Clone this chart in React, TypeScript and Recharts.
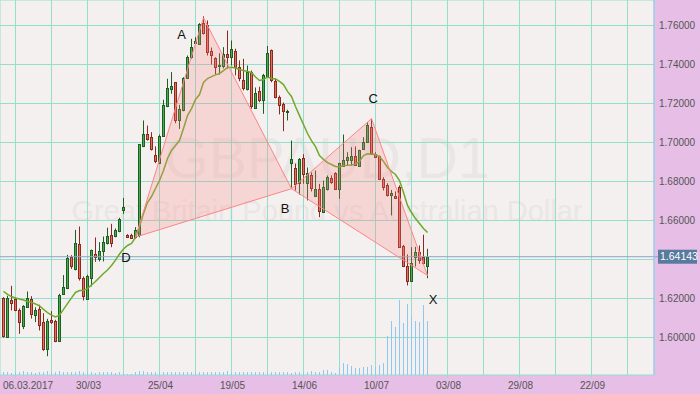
import React from 'react';
import { ComposedChart, Bar, Line, Scatter, XAxis, YAxis, CartesianGrid, ReferenceLine } from 'recharts';

// ---------- data (GBPAUD, D1) ----------
const OPEN = [
  1.6204, 1.6005, 1.6191, 1.6195, 1.6139, 1.6060, 1.6155, 1.6199, 1.6116, 1.6144,
  1.6081, 1.5940, 1.6092, 1.6087, 1.5981, 1.6222, 1.6253, 1.6414, 1.6349, 1.6482,
  1.6303, 1.6195, 1.6304, 1.6426, 1.6402, 1.6446, 1.6484, 1.6528, 1.6520, 1.6545,
  1.6655, 1.6527, 1.6527, 1.6513, 1.6528, 1.6980, 1.7043, 1.7026, 1.6935, 1.6894,
  1.7034, 1.7188, 1.7273, 1.7308, 1.7116, 1.7166, 1.7330, 1.7437, 1.7511, 1.7506,
  1.7615, 1.7600, 1.7467, 1.7434, 1.7392, 1.7390, 1.7455, 1.7436, 1.7467, 1.7386,
  1.7323, 1.7275, 1.7364, 1.7178, 1.7263, 1.7219, 1.7339, 1.7475, 1.7315, 1.7233,
  1.7198, 1.7156, 1.6895, 1.6869, 1.6790, 1.6920, 1.6790, 1.6833, 1.6728, 1.6762,
  1.6646, 1.6763, 1.6819, 1.6843, 1.6759, 1.6882, 1.6911, 1.6908, 1.6933, 1.6882,
  1.6968, 1.7002, 1.7079, 1.6942, 1.6930, 1.6814, 1.6780, 1.6730, 1.6728, 1.6774,
  1.6467, 1.6369, 1.6292, 1.6412, 1.6437, 1.6414, 1.6368,
];
const HIGH = [
  1.6207, 1.6214, 1.6265, 1.6204, 1.6149, 1.6166, 1.6236, 1.6212, 1.6155, 1.6168,
  1.6125, 1.6096, 1.6135, 1.6091, 1.6224, 1.6320, 1.6424, 1.6422, 1.6552, 1.6569,
  1.6313, 1.6322, 1.6451, 1.6513, 1.6489, 1.6518, 1.6563, 1.6583, 1.6559, 1.6614,
  1.6716, 1.6530, 1.6532, 1.6566, 1.6992, 1.7113, 1.7087, 1.7053, 1.6980, 1.7041,
  1.7219, 1.7327, 1.7361, 1.7310, 1.7193, 1.7335, 1.7446, 1.7532, 1.7540, 1.7612,
  1.7647, 1.7626, 1.7487, 1.7437, 1.7458, 1.7489, 1.7574, 1.7523, 1.7481, 1.7421,
  1.7429, 1.7395, 1.7369, 1.7282, 1.7286, 1.7352, 1.7495, 1.7477, 1.7328, 1.7241,
  1.7205, 1.7168, 1.7010, 1.6892, 1.6920, 1.6940, 1.6872, 1.6846, 1.6856, 1.6788,
  1.6805, 1.6831, 1.6831, 1.6848, 1.6896, 1.7041, 1.6950, 1.6976, 1.6980, 1.6963,
  1.7027, 1.7104, 1.7122, 1.6950, 1.6933, 1.6822, 1.6791, 1.6757, 1.6749, 1.6780,
  1.6475, 1.6426, 1.6463, 1.6465, 1.6472, 1.6527, 1.6455,
];
const LOW = [
  1.5999, 1.6002, 1.6139, 1.6135, 1.6019, 1.6043, 1.6152, 1.6097, 1.6079, 1.6036,
  1.5932, 1.5904, 1.6070, 1.5976, 1.5977, 1.6220, 1.6248, 1.6352, 1.6344, 1.6292,
  1.6190, 1.6193, 1.6262, 1.6388, 1.6390, 1.6390, 1.6477, 1.6463, 1.6514, 1.6540,
  1.6634, 1.6511, 1.6506, 1.6506, 1.6514, 1.6976, 1.7010, 1.6959, 1.6894, 1.6891,
  1.7030, 1.7181, 1.7250, 1.7099, 1.7070, 1.7160, 1.7327, 1.7429, 1.7506, 1.7503,
  1.7554, 1.7446, 1.7400, 1.7349, 1.7349, 1.7380, 1.7379, 1.7395, 1.7344, 1.7314,
  1.7267, 1.7267, 1.7173, 1.7173, 1.7207, 1.7147, 1.7333, 1.7309, 1.7226, 1.7144,
  1.7058, 1.7113, 1.6769, 1.6754, 1.6733, 1.6788, 1.6703, 1.6749, 1.6720, 1.6617,
  1.6641, 1.6754, 1.6788, 1.6757, 1.6711, 1.6877, 1.6882, 1.6882, 1.6882, 1.6877,
  1.6963, 1.6998, 1.6937, 1.6922, 1.6809, 1.6754, 1.6723, 1.6626, 1.6711, 1.6460,
  1.6361, 1.6267, 1.6289, 1.6364, 1.6378, 1.6374, 1.6304,
];
const CLOSE = [
  1.6007, 1.6204, 1.6178, 1.6142, 1.6079, 1.6161, 1.6204, 1.6122, 1.6139, 1.6063,
  1.5940, 1.6087, 1.6079, 1.5981, 1.6219, 1.6260, 1.6410, 1.6366, 1.6487, 1.6304,
  1.6214, 1.6316, 1.6450, 1.6414, 1.6446, 1.6492, 1.6522, 1.6484, 1.6549, 1.6609,
  1.6670, 1.6514, 1.6509, 1.6551, 1.6990, 1.7045, 1.7019, 1.6968, 1.6903, 1.7034,
  1.7190, 1.7282, 1.7292, 1.7113, 1.7171, 1.7333, 1.7440, 1.7492, 1.7523, 1.7609,
  1.7564, 1.7463, 1.7450, 1.7386, 1.7397, 1.7455, 1.7440, 1.7481, 1.7386, 1.7330,
  1.7280, 1.7364, 1.7185, 1.7256, 1.7219, 1.7347, 1.7459, 1.7323, 1.7232, 1.7194,
  1.7160, 1.7164, 1.6916, 1.6785, 1.6916, 1.6840, 1.6844, 1.6767, 1.6763, 1.6651,
  1.6774, 1.6822, 1.6796, 1.6763, 1.6894, 1.6911, 1.6928, 1.6933, 1.6887, 1.6959,
  1.7002, 1.7092, 1.6942, 1.6925, 1.6814, 1.6771, 1.6733, 1.6740, 1.6716, 1.6463,
  1.6369, 1.6292, 1.6381, 1.6437, 1.6395, 1.6382, 1.64143,
];
const MA = [
  1.6236, 1.6221, 1.6210, 1.6203, 1.6197, 1.6192, 1.6185, 1.6180, 1.6172, 1.6162,
  1.6144, 1.6128, 1.6115, 1.6106, 1.6115, 1.6144, 1.6174, 1.6203, 1.6231, 1.6241,
  1.6241, 1.6251, 1.6269, 1.6287, 1.6308, 1.6328, 1.6346, 1.6369, 1.6397, 1.6428,
  1.6454, 1.6472, 1.6482, 1.6513, 1.6569, 1.6636, 1.6692, 1.6723, 1.6764, 1.6805,
  1.6856, 1.6918, 1.6959, 1.6985, 1.7010, 1.7072, 1.7138, 1.7174, 1.7221, 1.7246,
  1.7308, 1.7328, 1.7338, 1.7347, 1.7354, 1.7369, 1.7385, 1.7386, 1.7382, 1.7374,
  1.7369, 1.7364, 1.7359, 1.7336, 1.7318, 1.7323, 1.7336, 1.7328, 1.7326, 1.7313,
  1.7297, 1.7262, 1.7236, 1.7185, 1.7138, 1.7092, 1.7046, 1.7010, 1.6979, 1.6933,
  1.6913, 1.6897, 1.6887, 1.6877, 1.6874, 1.6882, 1.6883, 1.6885, 1.6890, 1.6903,
  1.6933, 1.6942, 1.6941, 1.6938, 1.6928, 1.6903, 1.6872, 1.6851, 1.6836, 1.6805,
  1.6744, 1.6677, 1.6641, 1.6610, 1.6585, 1.6559, 1.6538,
];
const VOLUME = [
  3, 3, 2, 3, 3, 4, 3, 3, 2, 3,
  3, 4, 3, 3, 4, 3, 3, 3, 3, 4,
  3, 3, 3, 2, 3, 3, 3, 3, 2, 3,
  2, 1, 1, 3, 4, 4, 3, 3, 3, 3,
  3, 3, 3, 3, 3, 3, 3, 3, 3, 3,
  3, 3, 3, 3, 3, 3, 4, 3, 3, 3,
  3, 3, 3, 3, 3, 3, 3, 3, 3, 3,
  3, 3, 2, 3, 3, 3, 3, 4, 3, 3,
  5, 5, 3, 2, 7, 12, 11, 9, 7, 7,
  8, 8, 10, 8, 10, 12, 39, 54, 48, 75,
  52, 71, 59, 54, 53, 70, 54,
];

const GRID_BARS = [3, 12, 21, 30, 39, 48, 57, 66, 75, 84, 93, 102, 111, 120, 129, 138, 147, 156];
const DATE_LABEL_BARS = [3, 21, 39, 57, 75, 93, 111, 129, 147];
const DATE_LABELS = ['06.03.2017', '30/03', '25/04', '19/05', '14/06', '10/07', '03/08', '29/08', '22/09'];
const PRICE_TICKS = [1.6, 1.62, 1.64, 1.66, 1.68, 1.7, 1.72, 1.74, 1.76];
const LAST_PRICE = 1.64143;

// harmonic pattern vertices: D, A, B, C, X
const VERTEX_BARS = [33, 50, 72, 92, 106];
const VERTEX_PRICES = [1.6515, 1.7640, 1.6763, 1.7122, 1.6318];
const LABEL_TEXTS = ['A', 'B', 'C', 'D', 'X'];
const LABEL_BARS = [44.5, 70.4, 92.4, 30.6, 107.4];
const LABEL_PRICES = [1.7556, 1.6662, 1.7228, 1.6408, 1.6195];

// ---------- layout / style ----------
const W = 700;
const H = 394;
const AXIS_W = 46;
const AXIS_H = 19;
const PLOT_W = W - AXIS_W;
const PLOT_H = H - AXIS_H;
const BAR_STEP = 4;
const FIRST_BAR_X = 3.5;
const X_DOMAIN: [number, number] = [-FIRST_BAR_X / BAR_STEP, (PLOT_W - FIRST_BAR_X) / BAR_STEP];
const PX_PER_UNIT = 1950;
const TOP_PRICE = 1.76 + 25.5 / PX_PER_UNIT;
const Y_DOMAIN: [number, number] = [TOP_PRICE - PLOT_H / PX_PER_UNIT, TOP_PRICE];
const FONT = 'Liberation Sans, Arial, sans-serif';
const GRID_COLOR = '#93DFCB';

const BULL_FILL = '#48AA52';
const BULL_LINE = '#1E5E22';
const BEAR_FILL = '#E2705F';
const BEAR_LINE = '#8A2A1F';

const candles = OPEN.map((o, i) => ({
  i,
  o,
  h: HIGH[i],
  l: LOW[i],
  c: CLOSE[i],
  range: [LOW[i], HIGH[i]],
  ma: MA[i],
  v: VOLUME[i],
}));

const tri = (a: number, b: number, c: number) =>
  [a, b, c, a].map((k) => ({ i: VERTEX_BARS[k], p: VERTEX_PRICES[k] }));
const TRI_DAB = tri(0, 1, 2);
const TRI_BCX = tri(2, 3, 4);
const LABEL_DATA = LABEL_TEXTS.map((t, k) => ({ i: LABEL_BARS[k], p: LABEL_PRICES[k], t }));

const Candle = (props: any) => {
  const { x, y, width, height, payload } = props;
  if (!payload || x == null || y == null) return <g />;
  const { o, h, l, c } = payload;
  const top = Math.min(y, y + height);
  const span = Math.abs(height);
  const py = (v: number) => (h === l ? top : top + ((h - v) / (h - l)) * span);
  const cx = Math.floor(x + width / 2) + 0.5;
  const bull = c >= o;
  const line = bull ? BULL_LINE : BEAR_LINE;
  const fill = bull ? BULL_FILL : BEAR_FILL;
  const bt = Math.round(py(Math.max(o, c)));
  const bb = Math.round(py(Math.min(o, c)));
  return (
    <g>
      <line x1={cx} x2={cx} y1={py(h)} y2={py(l)} stroke={line} strokeWidth={1} />
      {bb - bt >= 1 ? (
        <rect x={cx - 1} y={bt + 0.5} width={2} height={bb - bt} fill={fill} stroke={line} strokeWidth={1} />
      ) : (
        <line x1={cx - 1.5} x2={cx + 1.5} y1={bt + 0.5} y2={bt + 0.5} stroke={line} strokeWidth={1} />
      )}
    </g>
  );
};

const VolumeBar = (props: any) => {
  const { x, y, width, height } = props;
  if (x == null || y == null) return <g />;
  const cx = Math.floor(x + width / 2);
  return <rect x={cx} y={Math.min(y, y + height)} width={1} height={Math.abs(height)} fill="#8CC8F0" />;
};

const makePolygonDot = (n: number) => {
  const pts: [number, number][] = [];
  return (props: any) => {
    const { index, cx, cy, points } = props;
    if (index === 0) pts.length = 0;
    pts.push([cx, cy]);
    if (index !== n - 1) return <g key={`pd-${index}`} />;
    const ps: [number, number][] =
      points && points.length === n ? points.map((p: any) => [p.x, p.y]) : pts.slice();
    return (
      <polygon
        key="poly"
        points={ps.map((p) => `${p[0]},${p[1]}`).join(' ')}
        fill="#FF8080"
        fillOpacity={0.24}
        stroke="#FF8484"
        strokeWidth={1}
      />
    );
  };
};

const PriceTick = (props: any) => {
  const { x, y, payload } = props;
  if (Math.abs(payload.value - 1.64) < 1e-6) return <g />;
  return (
    <text x={x} y={y + 3.5} fontSize={10} fill="#555" fontFamily={FONT}>
      {Number(payload.value).toFixed(5)}
    </text>
  );
};

const DateTick = (props: any) => {
  const { x, y, payload } = props;
  const k = DATE_LABEL_BARS.indexOf(payload.value);
  if (k < 0) return <g />;
  const first = k === 0;
  const gx = Math.floor(x) + 0.5;
  return (
    <g>
      <line x1={gx} x2={gx} y1={y} y2={y + 3} stroke={GRID_COLOR} strokeWidth={1} />
      <text
        x={first ? x - 12.5 : x + 1}
        y={y + 14}
        textAnchor={first ? 'start' : 'middle'}
        fontSize={10}
        fill="#555"
        fontFamily={FONT}
      >
        {DATE_LABELS[k]}
      </text>
    </g>
  );
};

const BidLabel = (props: any) => {
  const vb = props.viewBox || {};
  const x = (vb.x ?? 0) + (vb.width ?? PLOT_W);
  const y = vb.y ?? 0;
  return (
    <g>
      <line x1={x} x2={x + 4} y1={y} y2={y} stroke="#8EA4C6" strokeWidth={1} />
      <rect x={x + 4} y={y - 7} width={39} height={14} fill="#587A9E" />
      <text x={x + 6} y={y + 3.5} fontSize={10.5} fill="#FFFFFF" fontFamily={FONT}>
        {LAST_PRICE.toFixed(5)}
      </text>
    </g>
  );
};

const LabelShape = (props: any) => (
  <text
    x={props.cx}
    y={props.cy}
    textAnchor="middle"
    dominantBaseline="central"
    fontSize={13}
    fill="#111"
    fontFamily={FONT}
  >
    {props.payload.t}
  </text>
);

export default function App() {
  return (
    <div style={{ position: 'absolute', left: 0, top: 0, width: W, height: H, background: '#E6BEE6', overflow: 'hidden' }}>
      <div style={{ position: 'absolute', left: 0, top: 0, width: PLOT_W, height: PLOT_H, background: '#F4F0F0' }} />
      <svg style={{ position: 'absolute', left: 0, top: 0 }} width={PLOT_W} height={PLOT_H}>
        <text x={PLOT_W / 2} y={178} textAnchor="middle" fontSize={57} fill="#EAE6E6" fontFamily={FONT}>
          GBPAUD,D1
        </text>
        <text x={PLOT_W / 2} y={221} textAnchor="middle" fontSize={29} fill="#EAE6E6" fontFamily={FONT}>
          Great Britain Pound vs Australian Dollar
        </text>
      </svg>
      <div style={{ position: 'absolute', left: 0, top: 0 }}>
        <ComposedChart width={W} height={H} data={candles} margin={{ top: 0, right: 0, bottom: 0, left: 0 }}>
          <CartesianGrid stroke={GRID_COLOR} strokeWidth={1} fill="none" />
          <XAxis
            dataKey="i"
            type="number"
            domain={X_DOMAIN}
            allowDataOverflow
            ticks={GRID_BARS}
            interval={0}
            height={AXIS_H}
            tickSize={0}
            tickMargin={0}
            tickLine={false}
            axisLine={false}
            tick={<DateTick />}
          />
          <XAxis xAxisId="vol" dataKey="i" type="number" domain={X_DOMAIN} allowDataOverflow hide />
          <YAxis
            orientation="right"
            type="number"
            domain={Y_DOMAIN}
            allowDataOverflow
            ticks={PRICE_TICKS}
            interval={0}
            width={AXIS_W}
            tickSize={0}
            tickMargin={5}
            tickLine={false}
            axisLine={{ stroke: '#9CC6EE' }}
            tick={<PriceTick />}
          />
          <YAxis yAxisId="vol" type="number" domain={[0, PLOT_H]} allowDataOverflow hide />
          <ReferenceLine y={LAST_PRICE} stroke="#8EA4C6" strokeWidth={1} label={BidLabel} />
          <Bar
            xAxisId="vol"
            yAxisId="vol"
            dataKey="v"
            barSize={3}
            shape={VolumeBar}
            isAnimationActive={false}
          />
          <Bar dataKey="range" barSize={3} shape={Candle} isAnimationActive={false} />
          <Line dataKey="ma" stroke="#6EAA2A" strokeWidth={1.5} dot={false} activeDot={false} isAnimationActive={false} />
          <Line
            data={TRI_DAB}
            dataKey="p"
            stroke="none"
            dot={makePolygonDot(TRI_DAB.length)}
            activeDot={false}
            isAnimationActive={false}
          />
          <Line
            data={TRI_BCX}
            dataKey="p"
            stroke="none"
            dot={makePolygonDot(TRI_BCX.length)}
            activeDot={false}
            isAnimationActive={false}
          />
          <Scatter data={LABEL_DATA} dataKey="p" shape={LabelShape} isAnimationActive={false} />
        </ComposedChart>
      </div>
    </div>
  );
}
